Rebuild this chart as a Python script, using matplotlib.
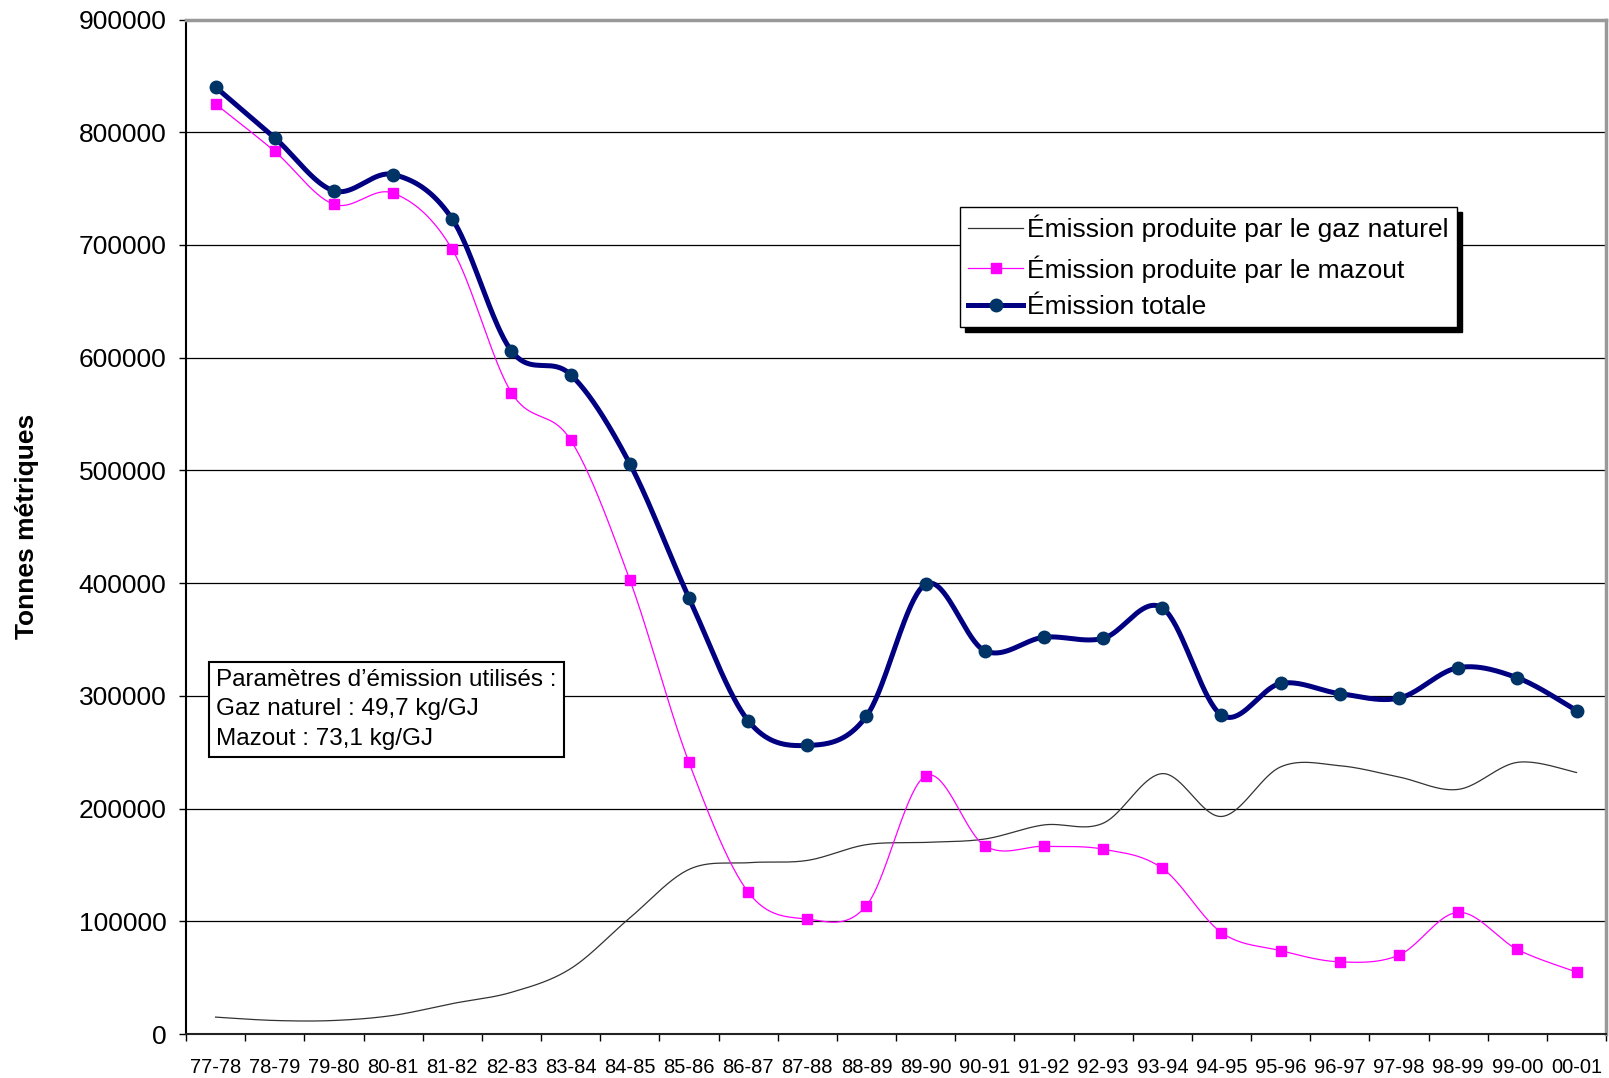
import numpy as np
import matplotlib
matplotlib.use('Agg')
import matplotlib.pyplot as plt
from matplotlib.lines import Line2D
from matplotlib.patches import Rectangle

plt.rcParams['font.family'] = ['Liberation Sans', 'DejaVu Sans']

# ── data (tonnes métriques) ─────────────────────────────────────
years = ['77-78', '78-79', '79-80', '80-81', '81-82', '82-83', '83-84', '84-85',
         '85-86', '86-87', '87-88', '88-89', '89-90', '90-91', '91-92', '92-93',
         '93-94', '94-95', '95-96', '96-97', '97-98', '98-99', '99-00', '00-01']

gaz = [15000, 12000, 12000, 16500, 27000, 37000, 58000, 103000,
       146000, 152000, 154000, 168000, 170000, 173000, 185500, 187000,
       231000, 193000, 237000, 238000, 228000, 217000, 241000, 232000]

mazout = [825000, 783000, 736000, 746000, 696000, 569000, 527000, 403000,
          241000, 126000, 102000, 114000, 229000, 167000, 166500, 164000,
          147000, 90000, 74000, 64000, 70000, 108000, 75000, 55000]

total = [840000, 795000, 748000, 762500, 723000, 606000, 585000, 506000,
         387000, 278000, 256000, 282000, 399000, 340000, 352000, 351000,
         378000, 283000, 311000, 302000, 298000, 325000, 316000, 287000]


def smooth(xs, ys, n=40):
    # excel-like smoothed line: catmull-rom as cubic bezier
    xs = np.asarray(xs, float)
    ys = np.asarray(ys, float)
    px = np.concatenate([[xs[0]], xs, [xs[-1]]])
    py = np.concatenate([[ys[0]], ys, [ys[-1]]])
    t = np.linspace(0, 1, n)[:, None]
    outx, outy = [], []
    for i in range(1, len(px) - 2):
        p0 = np.array([px[i], py[i]])
        p3 = np.array([px[i + 1], py[i + 1]])
        c1 = p0 + (p3 - np.array([px[i - 1], py[i - 1]])) / 6
        c2 = p3 - (np.array([px[i + 2], py[i + 2]]) - p0) / 6
        b = ((1 - t) ** 3) * p0 + 3 * ((1 - t) ** 2) * t * c1 \
            + 3 * (1 - t) * t ** 2 * c2 + t ** 3 * p3
        outx.append(b[:, 0])
        outy.append(b[:, 1])
    return np.concatenate(outx), np.concatenate(outy)


x = np.arange(len(years))

fig = plt.figure(figsize=(16.09, 10.78), dpi=100)
ax = fig.add_axes([0.1156, 0.0408, 0.8826, 0.9411])

# gridlines
ax.set_ylim(0, 900000)
ax.set_xlim(-0.5, len(years) - 0.5)
ax.set_yticks(np.arange(0, 900001, 100000))
ax.yaxis.grid(True, color='black', linewidth=0.9)
ax.set_axisbelow(True)

sx, sy = smooth(x, gaz)
ax.plot(sx, sy, color='#333333', linewidth=0.9, zorder=3)

sx, sy = smooth(x, mazout)
ax.plot(sx, sy, color='#FF00FF', linewidth=0.9, zorder=4)
ax.plot(x, mazout, linestyle='none', marker='s', markersize=7,
        color='#FF00FF', zorder=5)

sx, sy = smooth(x, total)
ax.plot(sx, sy, color='#000080', linewidth=3.6, zorder=6,
        solid_capstyle='round')
ax.plot(x, total, linestyle='none', marker='o', markersize=9,
        color='#003366', zorder=7)

# axes styling
ax.spines['left'].set_color('black')
ax.spines['left'].set_linewidth(1.5)
ax.spines['bottom'].set_color('#222222')
ax.spines['bottom'].set_linewidth(1.5)
ax.spines['top'].set_color('#999999')
ax.spines['top'].set_linewidth(2.5)
ax.spines['right'].set_color('#999999')
ax.spines['right'].set_linewidth(2.5)

ax.tick_params(axis='y', direction='out', length=5, width=1, pad=9,
               labelsize=19, colors='black')
ax.set_yticklabels([str(v) for v in range(0, 900001, 100000)])

ax.set_xticks(np.arange(-0.5, len(years), 1.0))
ax.set_xticklabels([])
ax.tick_params(axis='x', which='major', direction='out', length=5, width=1)
ax.set_xticks(x, minor=True)
ax.set_xticklabels(years, minor=True)
ax.tick_params(axis='x', which='minor', length=0, pad=17)
for lbl in ax.get_xticklabels(minor=True):
    lbl.set_fontfamily(['Liberation Sans Narrow', 'Liberation Sans'])
    lbl.set_fontsize(14.5)

ax.set_ylabel('Tonnes métriques', fontsize=19, fontweight='bold')
ax.yaxis.set_label_coords(-0.1033, 0.5)

# legend with black drop shadow
handles = [
    Line2D([], [], color='#333333', linewidth=0.9),
    Line2D([], [], color='#FF00FF', linewidth=0.9, marker='s', markersize=7),
    Line2D([], [], color='#000080', linewidth=3.6, marker='o', markersize=9,
           markerfacecolor='#003366', markeredgecolor='#003366'),
]
labels = ['Émission produite par le gaz naturel',
          'Émission produite par le mazout',
          'Émission totale']
leg = fig.legend(handles, labels, loc='upper left',
                 bbox_to_anchor=(0.5966, 0.808), bbox_transform=fig.transFigure,
                 fontsize=19, frameon=True, fancybox=False, framealpha=1,
                 edgecolor='black', borderaxespad=0, borderpad=0.3,
                 handlelength=2.1, handletextpad=0.15, labelspacing=0.48)
leg.get_frame().set_linewidth(1.0)
leg.set_zorder(10)

fig.canvas.draw()
bb = leg.get_window_extent().transformed(fig.transFigure.inverted())
dx, dy = 5 / 1609, 5 / 1078
fig.patches.append(Rectangle((bb.x0 + dx, bb.y0 - dy), bb.width, bb.height,
                             transform=fig.transFigure, facecolor='black',
                             edgecolor='black', zorder=9))

# parameter box
fig.text(0.1345, 0.3795,
         'Paramètres d\u2019émission utilisés :\nGaz naturel : 49,7 kg/GJ\nMazout : 73,1 kg/GJ',
         fontsize=17.5, va='top', ha='left', linespacing=1.43,
         bbox=dict(boxstyle='square,pad=0.3', facecolor='white',
                   edgecolor='black', linewidth=1.5), zorder=10)

fig.savefig('out.png', dpi=100)
